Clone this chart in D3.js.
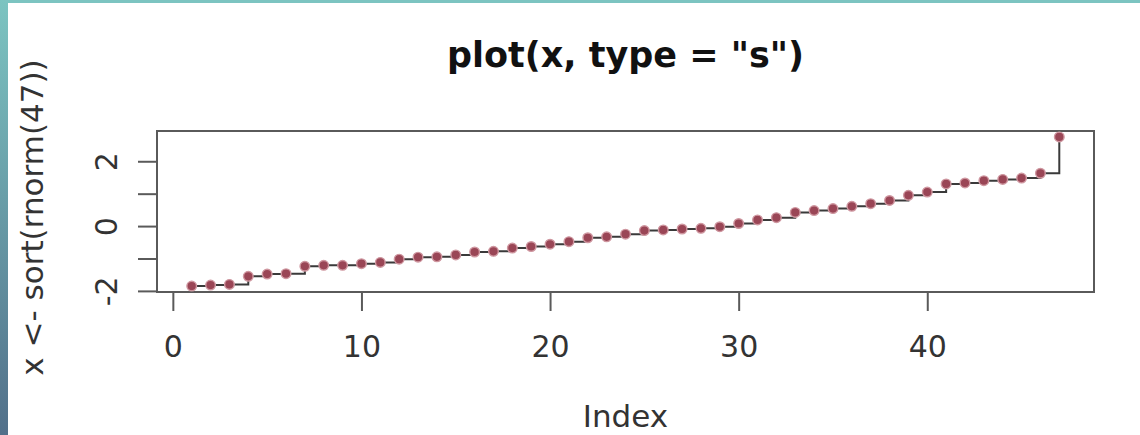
<!DOCTYPE html>
<html>
<head>
<meta charset="utf-8">
<script src="https://cdn.jsdelivr.net/npm/d3@7"></script>
<style>
	body { margin: 0; background: #fff; }
	svg { display: block; }
	text { font-family: "DejaVu Sans", sans-serif; }
</style>
</head>
<body>
<svg id="graphic" width="1140" height="435"></svg>
<script>
// sorted values, index 1..47
var values = [
	-1.85, -1.82, -1.80, -1.55, -1.48, -1.47, -1.24, -1.21, -1.21, -1.16,
	-1.12, -1.02, -0.96, -0.95, -0.89, -0.80, -0.78, -0.68, -0.63, -0.56,
	-0.48, -0.36, -0.33, -0.25, -0.14, -0.12, -0.09, -0.07, -0.02, 0.08,
	0.19, 0.26, 0.42, 0.48, 0.54, 0.61, 0.69, 0.79, 0.95, 1.05,
	1.30, 1.33, 1.40, 1.44, 1.48, 1.63, 2.75
];
var xTicks = [0, 10, 20, 30, 40];
var yTicks = [-2, -1, 0, 1, 2];
var yTickLabels = ["-2", "", "0", "", "2"];

var titleText = 'plot(x, type = "s")';
var xLabel = "Index";
var yLabel = "x <- sort(rnorm(47))";

var PLOT = { left: 157, right: 1094, top: 131, bottom: 292 };
var TICK_LEN = 19; // px
var AXIS_COLOR = "#5a5a5a";
var LABEL_SIZE = 30;

var svg = d3.select("svg");

// frame decoration: teal strip on top, gradient strip on the left
var defs = svg.append("defs");
var grad = defs.append("linearGradient")
	.attr("id", "leftgrad")
	.attr("x1", 0).attr("y1", 0).attr("x2", 0).attr("y2", 1);
grad.append("stop").attr("offset", "0%").attr("stop-color", "#7cc4c1");
grad.append("stop").attr("offset", "100%").attr("stop-color", "#52708a");

svg.append("rect").attr("x", 0).attr("y", 0).attr("width", 1140).attr("height", 3).attr("fill", "#7cc4c1");
svg.append("rect").attr("x", 0).attr("y", 0).attr("width", 8).attr("height", 435).attr("fill", "url(#leftgrad)");

var data = values.map(function(v, i) { return { idx: i + 1, val: v }; });

// R style 4% padding around the data range
var n = values.length;
var xpad = (n - 1) * 0.04;
var ymin = d3.min(values), ymax = d3.max(values);
var ypad = (ymax - ymin) * 0.04;

var x = d3.scaleLinear()
	.domain([1 - xpad, n + xpad])
	.range([PLOT.left, PLOT.right]);

var y = d3.scaleLinear()
	.domain([ymin - ypad, ymax + ypad])
	.range([PLOT.bottom, PLOT.top]);

// box
svg.append("rect")
	.attr("x", PLOT.left)
	.attr("y", PLOT.top)
	.attr("width", PLOT.right - PLOT.left)
	.attr("height", PLOT.bottom - PLOT.top)
	.attr("fill", "none")
	.attr("stroke", AXIS_COLOR)
	.attr("stroke-width", 2);

// bottom axis
var xAxis = svg.append("g")
	.attr("transform", "translate(0," + PLOT.bottom + ")")
	.call(d3.axisBottom(x).tickValues(xTicks).tickSize(TICK_LEN).tickSizeOuter(0));
xAxis.select(".domain")
	.attr("d", "M" + x(xTicks[0]) + ",0H" + x(xTicks[xTicks.length - 1]))
	.attr("stroke", AXIS_COLOR).attr("stroke-width", 2);
xAxis.selectAll(".tick line").attr("stroke", AXIS_COLOR).attr("stroke-width", 2);
xAxis.selectAll(".tick text")
	.attr("font-family", "DejaVu Sans, sans-serif")
	.attr("font-size", LABEL_SIZE)
	.attr("fill", "#333")
	.attr("dy", null)
	.attr("y", 65);

// left axis, labels parallel to the axis as R does
var yAxis = svg.append("g")
	.attr("transform", "translate(" + PLOT.left + ",0)")
	.call(d3.axisLeft(y).tickValues(yTicks).tickSize(TICK_LEN).tickSizeOuter(0)
		.tickFormat(function(d, i) { return yTickLabels[i]; }));
yAxis.select(".domain")
	.attr("d", "M0," + y(yTicks[0]) + "V" + y(yTicks[yTicks.length - 1]))
	.attr("stroke", AXIS_COLOR).attr("stroke-width", 2);
yAxis.selectAll(".tick line").attr("stroke", AXIS_COLOR).attr("stroke-width", 2);
yAxis.selectAll(".tick text")
	.attr("font-family", "DejaVu Sans, sans-serif")
	.attr("font-size", LABEL_SIZE)
	.attr("fill", "#333")
	.attr("x", null)
	.attr("dy", null)
	.attr("text-anchor", "middle")
	.attr("transform", "translate(-40,0) rotate(-90)");

// step line
var line = d3.line()
	.x(function(d) { return x(d.idx); })
	.y(function(d) { return y(d.val); })
	.curve(d3.curveStepAfter);

svg.append("path")
	.datum(data)
	.attr("fill", "none")
	.attr("stroke", "#3a3a3a")
	.attr("stroke-width", 2)
	.attr("d", line);

// points
svg.append("g").selectAll("circle")
	.data(data)
	.enter().append("circle")
		.attr("cx", function(d) { return x(d.idx); })
		.attr("cy", function(d) { return y(d.val); })
		.attr("r", 4.8)
		.attr("fill", "#9a4656")
		.attr("stroke", "#cf97a0")
		.attr("stroke-width", 1.4);

// titles
svg.append("text")
	.attr("x", (PLOT.left + PLOT.right) / 2)
	.attr("y", 67)
	.attr("text-anchor", "middle")
	.attr("font-size", 35)
	.attr("font-weight", "bold")
	.attr("fill", "#111")
	.text(titleText);

svg.append("text")
	.attr("x", (PLOT.left + PLOT.right) / 2)
	.attr("y", 427)
	.attr("text-anchor", "middle")
	.attr("font-size", 31)
	.attr("fill", "#333")
	.text(xLabel);

svg.append("text")
	.attr("transform", "translate(43," + ((PLOT.top + PLOT.bottom) / 2 + 6) + ") rotate(-90)")
	.attr("text-anchor", "middle")
	.attr("font-size", 31)
	.attr("fill", "#333")
	.text(yLabel);
</script>
</body>
</html>
